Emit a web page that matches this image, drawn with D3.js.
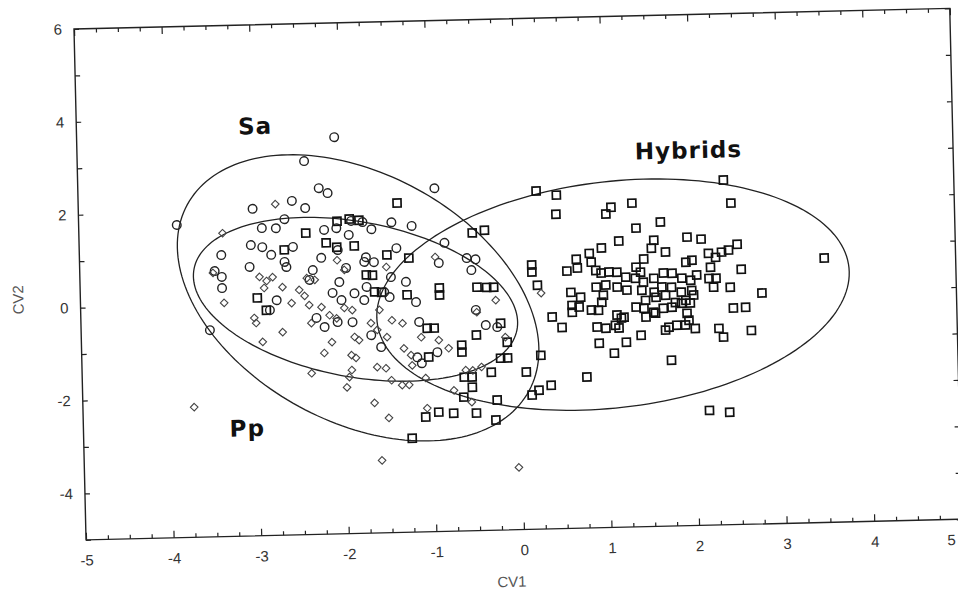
<!DOCTYPE html>
<html>
<head>
<meta charset="utf-8">
<script src="https://cdn.jsdelivr.net/npm/d3@7"></script>
<style>
  body { margin: 0; background: #fff; }
  .tick-label text { font-family: "Liberation Sans", Arial, sans-serif; font-size: 15px; fill: #333; }
  .axis-title { font-family: "Liberation Sans", Arial, sans-serif; font-size: 15px; fill: #555; }
  .group-label { font-family: "DejaVu Sans", sans-serif; font-weight: bold; font-size: 23px; fill: #111; }
</style>
</head>
<body>
<svg id="chart" width="958" height="600"></svg>
<script>
// Sa (circles)
const saPoints = [
  [-2.06,3.54],[-2.41,3.04],[-0.93,2.39],[-2.25,2.45],[-2.15,2.34],[-3.88,1.73],[-3.01,2.04],[-2.56,2.19],
  [-2.41,2.03],[-1.43,1.68],[-1.20,1.59],[-0.83,1.21],[-0.58,0.87],[-0.48,0.84],[-0.53,0.61],[-3.38,1.06],
  [-3.04,1.26],[-2.91,1.21],[-2.81,1.04],[-2.91,1.62],[-2.75,1.61],[-2.65,1.80],[-2.20,1.55],[-2.06,1.58],
  [-1.92,1.43],[-1.76,1.70],[-1.66,1.54],[-1.73,0.94],[-1.64,0.83],[-1.45,0.50],[-1.28,0.39],[-2.24,0.95],
  [-1.96,0.72],[-2.05,1.11],[-2.56,1.20],[-2.66,0.88],[-2.64,0.77],[-3.06,0.79],[-3.38,0.59],[-3.38,0.35],
  [-2.34,0.69],[-2.12,0.19],[-2.76,0.06],[-2.84,-0.15],[-2.38,0.48],[-2.04,0.42],[-1.75,0.84],[-1.38,1.12],
  [-1.87,0.17],[-1.73,0.30],[-1.76,0.02],[-1.47,0.07],[-1.17,-0.05],[-0.90,0.78],[-2.31,-0.34],[-2.22,-0.54],
  [-1.90,-0.45],[-2.02,0.03],[-1.69,-0.74],[-1.58,-1.00],[-3.53,-0.55],[-1.14,-0.48],[-0.94,-1.14],[-1.17,-1.24],
  [-0.49,-0.25],[-0.38,-0.58],[-0.25,-0.63],[-1.53,0.18],[-2.07,-0.44],[-1.12,-1.37],[-1.89,1.73],[-3.46,0.72]
];

// Pp (diamonds)
const ppPoints = [
  [-3.36,1.53],[-2.75,2.13],[-2.06,0.89],[-1.50,0.72],[-2.69,0.34],[-0.94,0.91],[-3.48,0.68],[-3.36,0.03],
  [-3.02,-0.31],[-3.00,-0.42],[-2.93,-0.83],[-2.70,-0.63],[-2.59,-0.01],[-2.95,0.57],[-2.87,0.48],[-2.80,0.56],
  [-2.90,0.33],[-2.50,0.27],[-2.44,0.14],[-2.41,0.52],[-2.32,0.48],[-2.39,-0.06],[-2.25,-0.11],[-2.16,-0.29],
  [-2.08,-0.36],[-1.99,-0.14],[-1.90,-0.19],[-1.98,0.68],[-2.14,-0.87],[-2.23,-1.10],[-1.88,-0.77],[-1.83,-0.84],
  [-1.92,-1.16],[-1.87,-1.22],[-1.92,-1.48],[-1.95,-1.63],[-1.98,-1.85],[-1.59,-0.20],[-1.69,-0.48],[-1.62,-0.63],
  [-1.51,-0.79],[-1.33,-0.50],[-1.45,-0.43],[-1.32,-1.04],[-1.12,-0.81],[-0.92,-0.88],[-0.81,-1.06],[-1.63,-1.43],
  [-1.53,-1.46],[-1.23,-1.41],[-2.38,-1.53],[-3.73,-2.20],[-1.47,-1.72],[-1.35,-1.83],[-1.27,-1.83],[-1.08,-1.69],
  [-1.67,-2.20],[-1.51,-2.53],[-0.76,-1.97],[-0.62,-1.54],[-0.54,-1.55],[-0.44,-1.48],[-0.56,-2.23],[-0.48,-0.30],
  [-0.26,-0.05],[-0.16,-0.85],[0.26,0.08],[-1.07,-2.34],[-1.60,-3.44],[-0.04,-3.66],[-1.24,-1.19],[-2.37,-0.45]
];

// Hybrids (squares)
const hybridPoints = [
  [-1.36,2.09],[-2.05,1.73],[-1.91,1.77],[-1.80,1.74],[-2.41,1.49],[-2.18,1.27],[-2.06,1.17],[-1.86,1.19],
  [-1.49,0.98],[-1.24,0.90],[-1.73,0.56],[-1.66,0.55],[-1.64,0.19],[-1.56,0.18],[-2.66,1.14],[-2.98,0.12],
  [-2.88,-0.15],[-1.27,0.11],[-0.90,0.24],[-0.90,0.09],[-1.05,-0.62],[-0.97,-0.62],[-1.04,-1.24],[-0.51,1.41],
  [-0.37,1.46],[-0.47,0.24],[-0.36,0.23],[-0.28,0.23],[0.16,0.69],[0.16,0.54],[0.22,0.25],[0.23,2.28],
  [-0.66,-1.00],[-0.66,-1.15],[-0.49,-0.79],[-0.21,-0.55],[-0.14,-0.96],[-0.22,-1.30],[-0.14,-1.30],[0.24,-1.26],
  [-0.33,-1.60],[0.07,-1.61],[-0.64,-1.69],[-0.55,-1.69],[-0.55,-1.91],[-0.65,-2.12],[-0.27,-2.20],[0.21,-2.01],
  [0.13,-2.11],[0.35,-1.91],[-0.94,-2.43],[-0.77,-2.46],[-0.51,-2.47],[-0.29,-2.63],[-1.25,-2.98],[-1.09,-2.53],
  [0.38,-0.44],[0.49,-0.67],
  [0.46,2.18],[0.45,1.77],[1.02,1.75],[1.08,1.89],[1.32,1.97],[2.45,1.92],[2.37,2.42],[1.64,1.55],
  [1.36,1.43],[1.16,1.16],[0.96,1.02],[1.56,1.16],[1.53,0.99],[1.69,0.90],[1.94,1.21],[2.10,1.16],
  [0.82,0.91],[0.84,0.72],[0.67,0.79],[0.68,0.60],[0.56,0.54],[1.44,0.76],[2.18,0.85],[2.26,0.76],
  [2.33,0.87],[2.41,0.91],[2.51,1.03],[2.20,0.55],[2.55,0.49],[1.92,0.67],[1.99,0.71],[3.50,0.69],
  [0.89,0.54],[0.95,0.48],[1.04,0.50],[1.13,0.49],[1.23,0.38],[1.35,0.59],[1.40,0.48],[0.89,0.18],
  [1.00,0.22],[1.13,0.17],[1.24,0.10],[0.97,0.00],[0.95,-0.15],[1.34,0.35],[1.43,0.26],[1.55,0.34],
  [1.66,0.45],[1.76,0.44],[1.87,0.33],[1.97,0.28],[2.04,0.39],[2.18,0.31],[2.26,0.31],[2.23,0.12],
  [2.42,0.11],[2.78,-0.03],[1.41,0.09],[1.55,0.04],[1.64,0.15],[1.75,0.14],[1.86,0.03],[1.98,0.06],
  [1.45,-0.13],[1.57,-0.07],[1.68,-0.03],[1.79,-0.19],[1.91,-0.15],[2.00,-0.04],[0.60,0.08],[0.71,-0.03],
  [0.61,-0.20],[0.69,-0.24],[0.61,-0.35],[0.83,-0.31],[0.91,-0.32],[1.12,-0.43],[1.20,-0.48],[1.10,-0.65],
  [1.34,-0.27],[1.43,-0.30],[1.54,-0.39],[1.65,-0.31],[1.75,-0.29],[1.86,-0.21],[1.96,-0.21],[1.45,-0.49],
  [1.56,-0.41],[1.92,-0.43],[1.94,-0.58],[1.71,-0.72],[1.80,-0.68],[1.90,-0.68],[2.01,-0.76],[1.67,-0.78],
  [2.45,-0.34],[2.59,-0.33],[2.28,-0.77],[2.33,-0.96],[2.65,-0.83],[0.89,-0.68],[0.99,-0.71],[1.14,-0.71],
  [1.17,-0.50],[1.39,-0.88],[0.76,-1.75],[1.08,-1.25],[0.91,-1.03],[1.22,-1.02],[1.73,-1.43],[2.15,-2.53],
  [2.38,-2.58]
];

// ellipses: centre and covariance [sxx, sxy, syy]
const ellipseCenters = [[-1.83, 0.07], [-1.86, 0.04], [1.08, 0.01]];
const ellipseCov = [[4.2, -2.4, 9.7], [3.4, -1.05, 3.2], [7.3, 1.0, 6.1]];

const groupLabels = ["Sa", "Pp", "Hybrids"];
const labelAnchors = [[-2.96, 3.82], [-3.13, -2.68], [1.98, 3.08]];

const xMajor = d3.range(-5, 5.01, 1);
const xMinor = d3.range(-5, 5.01, 0.25).filter(v => Math.abs(v - Math.round(v)) > 0.01);
const yTicks = d3.range(-5, 6.01, 1);

const width = 876, height = 511;

const x = d3.scaleLinear().domain([-5, 5]).range([0, width]);
const y = d3.scaleLinear().domain([-5, 6]).range([height, 0]);

const svg = d3.select("#chart");
svg.append("rect").attr("width", 958).attr("height", 600).attr("fill", "#fff");

// the scan is tilted slightly
const g = svg.append("g").attr("transform", "translate(74,29) rotate(-1.35)");

function styleAxis(sel) {
  sel.select(".domain").remove();
  sel.selectAll("line").attr("stroke", "#222").attr("stroke-width", 1.2);
}

// ticks and labels
const xAxisG = g.append("g").attr("class", "tick-label")
  .attr("transform", `translate(0,${height})`)
  .call(d3.axisBottom(x).tickValues(xMajor).tickSize(-7).tickPadding(15).tickFormat(d => String(d)))
  .call(styleAxis);
// last label sits on the page edge, keep it readable
xAxisG.selectAll(".tick text").filter(d => d === 5).attr("text-anchor", "end").attr("dx", -7);

g.append("g")
  .attr("transform", `translate(0,${height})`)
  .call(d3.axisBottom(x).tickValues(xMinor).tickSize(-4).tickFormat(""))
  .call(styleAxis);
g.append("g")
  .call(d3.axisTop(x).tickValues(xMajor).tickSize(-7).tickFormat(""))
  .call(styleAxis);
g.append("g")
  .call(d3.axisTop(x).tickValues(xMinor).tickSize(-4).tickFormat(""))
  .call(styleAxis);
g.append("g").attr("class", "tick-label")
  .call(d3.axisLeft(y).tickValues(yTicks).tickSize(-5).tickPadding(12)
    .tickFormat(d => (d % 2 === 0) ? String(d) : ""))
  .call(styleAxis);
g.append("g")
  .attr("transform", `translate(${width},0)`)
  .call(d3.axisRight(y).tickValues(yTicks).tickSize(-5).tickFormat(""))
  .call(styleAxis);

// frame
g.append("rect")
  .attr("width", width).attr("height", height)
  .attr("fill", "none").attr("stroke", "#222").attr("stroke-width", 1.4);

// axis titles
g.append("text").attr("class", "axis-title")
  .attr("x", x(-0.15)).attr("y", height + 57)
  .attr("text-anchor", "middle").text("CV1");
g.append("text").attr("class", "axis-title")
  .attr("transform", `translate(-57,${y(0.2)}) rotate(-90)`)
  .attr("text-anchor", "middle").text("CV2");

// confidence ellipses
function ellipsePath(c, s) {
  const l11 = Math.sqrt(s[0]), l21 = s[1] / l11, l22 = Math.sqrt(s[2] - l21 * l21);
  const pts = d3.range(0, 360, 2).map(a => {
    const t = a * Math.PI / 180;
    return [x(c[0] + l11 * Math.cos(t)), y(c[1] + l21 * Math.cos(t) + l22 * Math.sin(t))];
  });
  return d3.line()(pts) + "Z";
}
g.append("g").selectAll("path")
  .data(ellipseCenters)
  .join("path")
  .attr("d", (c, i) => ellipsePath(c, ellipseCov[i]))
  .attr("fill", "none").attr("stroke", "#222").attr("stroke-width", 1.3);

// points
g.append("g").selectAll("rect")
  .data(hybridPoints)
  .join("rect")
  .attr("x", d => x(d[0]) - 4).attr("y", d => y(d[1]) - 4)
  .attr("width", 8).attr("height", 8)
  .attr("fill", "none").attr("stroke", "#111").attr("stroke-width", 1.7);

g.append("g").selectAll("circle")
  .data(saPoints)
  .join("circle")
  .attr("cx", d => x(d[0])).attr("cy", d => y(d[1])).attr("r", 4.3)
  .attr("fill", "none").attr("stroke", "#222").attr("stroke-width", 1.4);

g.append("g").selectAll("path")
  .data(ppPoints)
  .join("path")
  .attr("transform", d => `translate(${x(d[0])},${y(d[1])})`)
  .attr("d", "M0,-3.8L3.8,0L0,3.8L-3.8,0Z")
  .attr("fill", "none").attr("stroke", "#444").attr("stroke-width", 1.1);

// group labels
g.append("g").selectAll("text")
  .data(groupLabels)
  .join("text")
  .attr("class", "group-label")
  .attr("x", (d, i) => x(labelAnchors[i][0]))
  .attr("y", (d, i) => y(labelAnchors[i][1]))
  .attr("dy", "0.35em")
  .attr("text-anchor", "middle")
  .attr("letter-spacing", 1)
  .text(d => d);
</script>
</body>
</html>
